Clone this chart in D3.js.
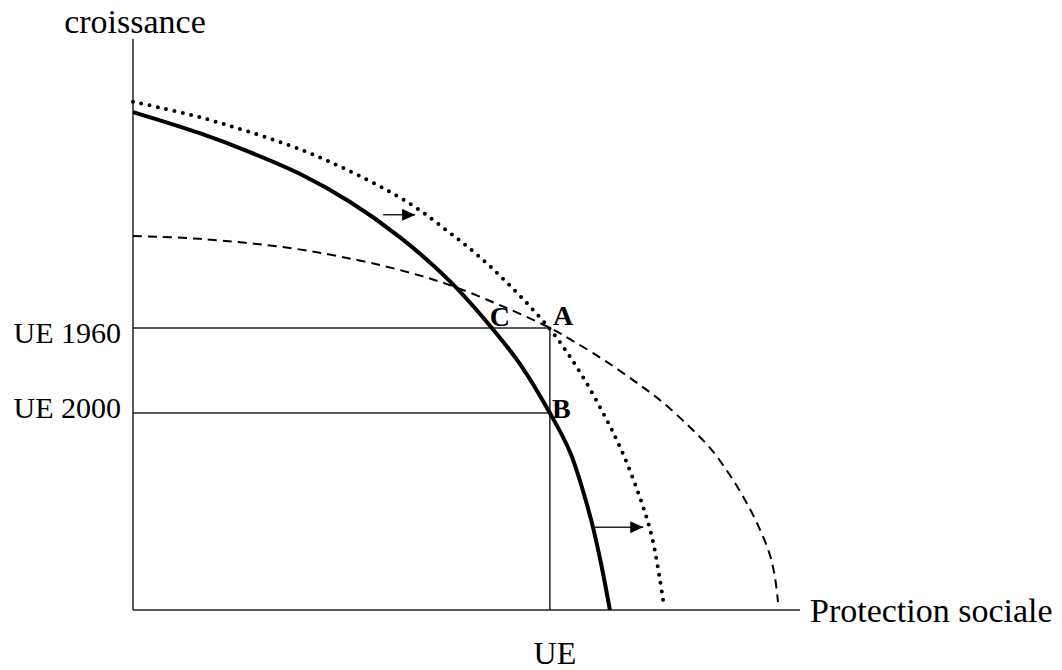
<!DOCTYPE html>
<html>
<head>
<meta charset="utf-8">
<script src="https://cdn.jsdelivr.net/npm/d3@7"></script>
<style>
  body { margin: 0; background: #fff; }
  text { font-family: "Liberation Serif", "Times New Roman", serif; fill: #000; }
</style>
</head>
<body>
<div class="myBox"></div>
<script>

   var width = 1062;
   var height = 670;

// frontiere d'aujourd'hui (trait plein)
var solidCurve = [[0, 8.72], [1.00, 8.35], [1.75, 8.02], [2.50, 7.64], [3.25, 7.15], [4.00, 6.53],
   [4.75, 5.76], [5.38, 4.94], [5.80, 4.31], [6.25, 3.45], [6.55, 2.77],
   [6.85, 1.66], [7.00, 0.91], [7.15, 0]];

// frontiere deplacee (pointilles)
var dottedCurve = [[0, 8.90], [1.00, 8.63], [2.50, 8.07], [3.52, 7.53], [4.20, 7.08], [4.71, 6.64],
   [5.13, 6.25], [5.61, 5.73], [6.25, 4.92], [6.66, 4.24], [7.03, 3.49], [7.33, 2.78],
   [7.63, 1.87], [7.78, 1.28], [7.90, 0.53], [7.96, 0.07]];

// frontiere 1960 (tirets)
var dashedCurve = [[0, 6.55], [1.00, 6.50], [2.35, 6.34], [3.36, 6.13], [4.11, 5.92], [4.75, 5.69],
   [5.50, 5.34], [6.25, 4.94], [6.60, 4.71], [7.11, 4.34], [7.60, 3.94], [7.95, 3.63],
   [8.35, 3.20], [8.65, 2.84], [8.91, 2.43], [9.15, 1.98], [9.36, 1.51], [9.55, 0.96],
   [9.63, 0.53], [9.67, 0.14]];

// niveaux de croissance
var yLabels = ["UE 1960", "UE 2000"];
var yValues = [4.94, 3.45];
// niveau de protection sociale
var xLabels = ["UE"];
var xValues = [6.25];

var points = ["A", "B", "C"];
var pointX = [6.25, 6.25, 5.38];
var pointY = [4.94, 3.45, 4.94];

// fleches de deplacement
var arrowStart = [[3.75, 6.92], [6.91, 1.45]];
var arrowEnd = [[4.23, 6.92], [7.65, 1.45]];

   var svg = d3.select(".myBox")
   .append("svg")
   .attr("width", width)
   .attr("height", height);

var x = d3.scaleLinear().domain([0, 10]).range([133, 800]);
var y = d3.scaleLinear().domain([0, 10]).range([610, 39]);

svg.append("defs").append("marker")
   .attr("id", "head")
   .attr("viewBox", "0 0 13 12")
   .attr("refX", 13)
   .attr("refY", 6)
   .attr("markerWidth", 13)
   .attr("markerHeight", 12)
   .attr("markerUnits", "userSpaceOnUse")
   .attr("orient", "auto")
   .append("path")
   .attr("d", "M0,0L13,6L0,12Z")
   .style("fill", "#000");

// axes
svg.append("line")
   .attr("x1", x(0)).attr("x2", x(0))
   .attr("y1", y(0)).attr("y2", y(10))
   .style("stroke", "#222").style("stroke-width", 1.5);
svg.append("line")
   .attr("x1", x(0)).attr("x2", x(10))
   .attr("y1", y(0)).attr("y2", y(0))
   .style("stroke", "#222").style("stroke-width", 1.5);

// lignes de repere
svg.selectAll(".hguide")
   .data(yValues)
   .enter().append("line")
   .attr("class", "hguide")
   .attr("x1", x(0)).attr("x2", x(xValues[0]))
   .attr("y1", function(d) { return y(d); })
   .attr("y2", function(d) { return y(d); })
   .style("stroke", "#222").style("stroke-width", 1.5);

svg.selectAll(".vguide")
   .data(xValues)
   .enter().append("line")
   .attr("class", "vguide")
   .attr("x1", function(d) { return x(d); })
   .attr("x2", function(d) { return x(d); })
   .attr("y1", y(yValues[0])).attr("y2", y(0))
   .style("stroke", "#222").style("stroke-width", 1.5);

var line = d3.line()
   .x(function(d) { return x(d[0]); })
   .y(function(d) { return y(d[1]); })
   .curve(d3.curveCatmullRom.alpha(0.5));

svg.append("path")
   .attr("d", line(dashedCurve))
   .style("fill", "none").style("stroke", "#000")
   .style("stroke-width", 2)
   .style("stroke-dasharray", "9 6");

svg.append("path")
   .attr("d", line(dottedCurve))
   .style("fill", "none").style("stroke", "#000")
   .style("stroke-width", 4)
   .style("stroke-linecap", "round")
   .style("stroke-dasharray", "0 8.5");

svg.append("path")
   .attr("d", line(solidCurve))
   .style("fill", "none").style("stroke", "#000")
   .style("stroke-width", 4);

svg.selectAll(".arrow")
   .data(arrowStart)
   .enter().append("line")
   .attr("class", "arrow")
   .attr("x1", function(d) { return x(d[0]); })
   .attr("y1", function(d) { return y(d[1]); })
   .attr("x2", function(d, i) { return x(arrowEnd[i][0]); })
   .attr("y2", function(d, i) { return y(arrowEnd[i][1]); })
   .style("stroke", "#222").style("stroke-width", 1.5)
   .attr("marker-end", "url(#head)");

// textes
svg.append("text")
   .attr("x", x(0) + 2).attr("y", 33)
   .attr("text-anchor", "middle")
   .style("font-size", "34px")
   .text("croissance");

svg.append("text")
   .attr("x", x(10) + 10).attr("y", 622)
   .style("font-size", "34px")
   .text("Protection sociale");

svg.selectAll(".xlab")
   .data(xLabels)
   .enter().append("text")
   .attr("class", "xlab")
   .attr("x", function(d, i) { return x(xValues[i]) + 5; })
   .attr("y", 664)
   .attr("text-anchor", "middle")
   .style("font-size", "32px")
   .text(function(d) { return d; });

var yShift = [15, 5];
svg.selectAll(".ylab")
   .data(yLabels)
   .enter().append("text")
   .attr("class", "ylab")
   .attr("x", 121)
   .attr("y", function(d, i) { return y(yValues[i]) + yShift[i]; })
   .attr("text-anchor", "end")
   .style("font-size", "30px")
   .text(function(d) { return d; });

var ptShift = [[3, -3], [2, 5], [-2, -2]];
svg.selectAll(".pt")
   .data(points)
   .enter().append("text")
   .attr("class", "pt")
   .attr("x", function(d, i) { return x(pointX[i]) + ptShift[i][0]; })
   .attr("y", function(d, i) { return y(pointY[i]) + ptShift[i][1]; })
   .style("font-size", "28px")
   .style("font-weight", "bold")
   .text(function(d) { return d; });

</script>
</body>
</html>
